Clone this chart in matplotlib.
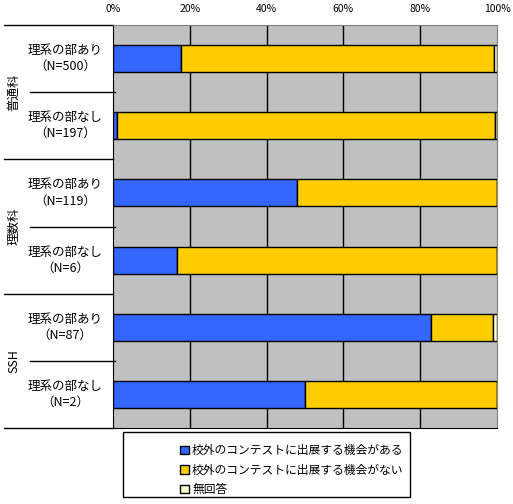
import matplotlib.pyplot as plt
from matplotlib.patches import Rectangle

plt.rcParams['font.family'] = ['Noto Sans CJK JP', 'DejaVu Sans']

# data (percent)
rows = ['理系の部あり\n（N=500）', '理系の部なし\n（N=197）',
        '理系の部あり\n（N=119）', '理系の部なし\n（N=6）',
        '理系の部あり\n（N=87）', '理系の部なし\n（N=2）']
groups = ['普通科', '理数科', 'SSH']
have = [17.6, 1.0, 47.9, 16.7, 82.8, 50.0]
have_not = [81.6, 98.5, 52.1, 83.3, 16.1, 50.0]
no_answer = [0.8, 0.5, 0.0, 0.0, 1.1, 0.0]
series_names = ['校外のコンテストに出展する機会がある', '校外のコンテストに出展する機会がない', '無回答']
colors = ['#3366FF', '#FFCC00', '#FFFFCC']
ticks = [0, 20, 40, 60, 80, 100]

fig = plt.figure(figsize=(5.13, 5.04), dpi=100)
ax = fig.add_axes([113/513, 1-428/504, 384/513, 403/504])
ax.set_facecolor('#C0C0C0')

y = list(range(len(rows)))
left = [0]*len(rows)
for vals, name, c in zip([have, have_not, no_answer], series_names, colors):
    ax.barh(y, vals, left=left, height=0.4, color=c, edgecolor='black', linewidth=1, label=name, zorder=3)
    left = [l + v for l, v in zip(left, vals)]

ax.set_xlim(0, 100)
ax.set_ylim(5.5, -0.5)
ax.set_xticks(ticks)
ax.set_xticklabels([f'{t}%' for t in ticks], fontsize=7.5)
ax.xaxis.tick_top()
ax.tick_params(axis='x', length=0, pad=8)
ax.set_yticks([])
for t in ticks[1:-1]:
    ax.axvline(t, color='black', linewidth=1, zorder=2)
for s in ['top', 'right']:
    ax.spines[s].set_color('#808080')
ax.spines['left'].set_color('black')
ax.spines['bottom'].set_color('black')

# left side labels and separators
tr = ax.get_yaxis_transform()
for i, r in enumerate(rows):
    ax.text(-0.125, i, r, transform=tr, ha='center', va='center', fontsize=9, linespacing=1.3)
for b in [0.5, 2.5, 4.5]:
    ax.plot([-0.216, 0.006], [b, b], color='black', linewidth=1, transform=tr, clip_on=False)
for b in [-0.5, 1.5, 3.5, 5.5]:
    ax.plot([-0.284, 0], [b, b], color='black', linewidth=1, transform=tr, clip_on=False)
for g, name in enumerate(groups):
    ax.text(-0.258, 2*g + 0.5, name, transform=tr, ha='center', va='center', rotation=90, fontsize=9)

# legend
fig.patches.append(Rectangle((123/513, 1-497/504), 287/513, 65/504, transform=fig.transFigure,
                             facecolor='white', edgecolor='black', linewidth=1))
fig.legend(loc='upper left', bbox_to_anchor=(172/513, 1-436/504), frameon=False, fontsize=8.5,
           handlelength=0.7, handleheight=0.7, handletextpad=0.3, labelspacing=0.55, borderpad=0.2)

fig.savefig('out.png', dpi=100)
